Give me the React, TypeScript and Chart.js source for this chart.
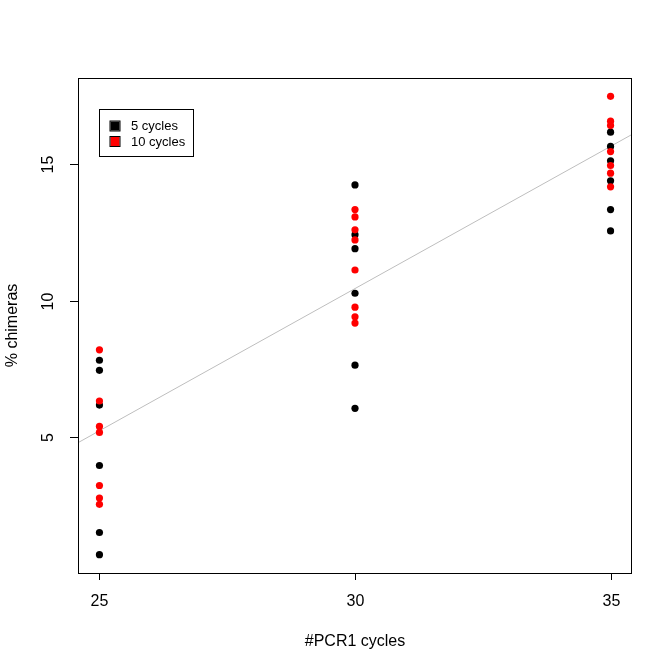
import { useEffect, useRef } from "react";
import { Chart, registerables } from "chart.js";

Chart.register(...registerables);

// PCR1 cycle counts on the x axis
const cycles = [25, 30, 35];
// % chimeras per PCR1 cycle count, one inner list per entry of `cycles`
const fiveCycles = [
  [7.82, 7.45, 6.18, 3.97, 1.52, 0.71],
  [14.23, 12.41, 11.9, 10.27, 7.64, 6.06],
  [16.16, 15.64, 15.11, 14.38, 13.33, 12.55],
];
const tenCycles = [
  [8.2, 6.33, 5.4, 5.18, 3.24, 2.78, 2.55],
  [13.33, 13.06, 12.59, 12.22, 11.12, 9.76, 9.41, 9.18],
  [17.47, 16.56, 16.4, 15.45, 14.94, 14.66, 14.16],
];
// fitted line: intercept, slope
const fitLine = [-20.76, 1.04];
const xTicks = [25, 30, 35];
const yTicks = [5, 10, 15];
const legendLabels = ["5 cycles", "10 cycles"];
const seriesColors = ["#000000", "#ff0000"];

const FONT = '"Liberation Sans", Arial, sans-serif';

function toPoints(groups: number[][]) {
  return groups.flatMap((vals, i) => vals.map((y) => ({ x: cycles[i], y })));
}

// R-style 4% padding around the data range
function padRange(vals: number[]) {
  const lo = Math.min(...vals);
  const hi = Math.max(...vals);
  const d = (hi - lo) * 0.04;
  return [lo - d, hi + d];
}

const rPlotDecor = {
  id: "rPlotDecor",
  afterDraw(chart: Chart) {
    const { ctx, chartArea: a, scales } = chart;
    const xs = scales.x;
    const ys = scales.y;
    ctx.save();
    ctx.strokeStyle = "#000";
    ctx.fillStyle = "#000";
    ctx.lineWidth = 1;

    // box
    const bl = Math.round(a.left) - 1;
    ctx.strokeRect(bl + 0.5, Math.round(a.top) + 0.5, Math.round(a.right) - bl, Math.round(a.bottom - a.top));

    // x axis ticks + labels
    ctx.font = `16px ${FONT}`;
    ctx.textAlign = "center";
    ctx.textBaseline = "middle";
    xTicks.forEach((t) => {
      const px = Math.round(xs.getPixelForValue(t)) + 0.5;
      ctx.beginPath();
      ctx.moveTo(px, a.bottom);
      ctx.lineTo(px, a.bottom + 7);
      ctx.stroke();
      ctx.fillText(String(t), px, a.bottom + 29);
    });
    ctx.fillText("#PCR1 cycles", (a.left + a.right) / 2, a.bottom + 69);

    // y axis ticks + rotated labels
    yTicks.forEach((t) => {
      const py = Math.round(ys.getPixelForValue(t)) + 0.5;
      ctx.beginPath();
      ctx.moveTo(bl, py);
      ctx.lineTo(bl - 8, py);
      ctx.stroke();
      ctx.save();
      ctx.translate(bl - 29, py);
      ctx.rotate(-Math.PI / 2);
      ctx.fillText(String(t), 0, 0);
      ctx.restore();
    });
    ctx.save();
    ctx.translate(13, (a.top + a.bottom) / 2);
    ctx.rotate(-Math.PI / 2);
    ctx.fillText("% chimeras", 0, 0);
    ctx.restore();

    // legend
    const lx = bl + 21.5;
    const ly = a.top + 31.5;
    ctx.strokeRect(lx, ly, 94, 47);
    ctx.font = `13px ${FONT}`;
    ctx.textAlign = "left";
    legendLabels.forEach((label, i) => {
      const sy = ly + 12 + i * 15.5;
      ctx.fillStyle = seriesColors[i];
      ctx.fillRect(lx + 11, sy, 9, 9);
      ctx.strokeStyle = "#000";
      ctx.strokeRect(lx + 10.5, sy - 0.5, 10, 10);
      ctx.fillStyle = "#000";
      ctx.fillText(label, lx + 31.5, sy + 5);
    });
    ctx.restore();
  },
};

export default function App() {
  const canvasRef = useRef<HTMLCanvasElement>(null);
  const chartRef = useRef<Chart | null>(null);

  useEffect(() => {
    if (!canvasRef.current) return;
    const ctx = canvasRef.current.getContext("2d");
    if (!ctx) return;
    if (chartRef.current) chartRef.current.destroy();

    const [xMin, xMax] = padRange(cycles);
    const [yMin, yMax] = padRange([...fiveCycles.flat(), ...tenCycles.flat()]);
    const [b0, b1] = fitLine;

    chartRef.current = new Chart(ctx, {
      type: "scatter",
      data: {
        datasets: [
          {
            label: legendLabels[1],
            data: toPoints(tenCycles),
            backgroundColor: seriesColors[1],
            borderWidth: 0,
            pointRadius: 3.6,
            order: 0,
          },
          {
            label: legendLabels[0],
            data: toPoints(fiveCycles),
            backgroundColor: seriesColors[0],
            borderWidth: 0,
            pointRadius: 3.6,
            order: 1,
          },
          {
            type: "line",
            label: "fit",
            data: [
              { x: xMin - 1, y: b0 + b1 * (xMin - 1) },
              { x: xMax + 1, y: b0 + b1 * (xMax + 1) },
            ],
            borderColor: "#bebebe",
            borderWidth: 1,
            pointRadius: 0,
            order: 2,
          },
        ],
      },
      options: {
        animation: false,
        responsive: false,
        devicePixelRatio: 1,
        layout: { padding: { top: 78, right: 41, left: 0, bottom: 0 } },
        plugins: { legend: { display: false }, tooltip: { enabled: false } },
        scales: {
          x: {
            type: "linear",
            min: xMin,
            max: xMax,
            grid: { display: false },
            border: { display: false },
            ticks: { display: false },
            afterFit: (s: any) => {
              s.height = 98;
            },
          },
          y: {
            type: "linear",
            min: yMin,
            max: yMax,
            grid: { display: false },
            border: { display: false },
            ticks: { display: false },
            afterFit: (s: any) => {
              s.width = 79;
            },
          },
        },
      },
      plugins: [rPlotDecor],
    });

    return () => {
      chartRef.current?.destroy();
      chartRef.current = null;
    };
  }, []);

  return (
    <div style={{ position: "absolute", left: 0, top: 0, width: 672, height: 671, background: "#fff" }}>
      <canvas ref={canvasRef} width={672} height={671} />
    </div>
  );
}
